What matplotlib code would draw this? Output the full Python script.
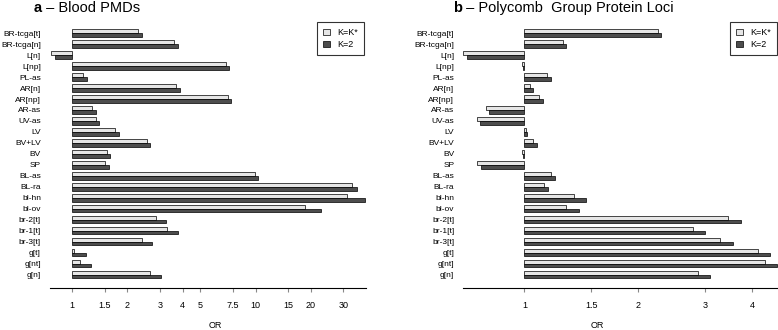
import numpy as np
import matplotlib.pyplot as plt

plt.rcParams['font.family'] = ['Liberation Sans', 'DejaVu Sans']

categories = ["BR-tcga[t]", "BR-tcga[n]", "L[n]", "L[np]", "PL-as", "AR[n]",
              "AR[np]", "AR-as", "UV-as", "LV", "BV+LV", "BV", "SP", "BL-as",
              "BL-ra", "bl-hn", "bl-ov", "br-2[t]", "br-1[t]", "br-3[t]",
              "g[t]", "g[nt]", "g[n]"]

# panel a - Blood PMDs
a_kstar = [2.29, 3.60, 0.762, 6.86, 1.148, 3.69, 7.03, 1.276, 1.34, 1.72, 2.55,
           1.55, 1.51, 9.92, 33.4, 31.3, 18.6, 2.87, 3.30, 2.41, 1.026, 1.10, 2.66]
a_k2 = [2.40, 3.75, 0.805, 7.13, 1.21, 3.87, 7.33, 1.34, 1.40, 1.79, 2.66,
        1.61, 1.585, 10.3, 35.7, 39.4, 22.6, 3.26, 3.77, 2.73, 1.19, 1.26, 3.06]
a_ticks = [1, 1.5, 2, 3, 4, 5, 7.5, 10, 15, 20, 30]
a_ticklabels = ["1", "1.5", "2", "3", "4", "5", "7.5", "10", "15", "20", "30"]

# panel b - Polycomb Group Protein Loci
b_kstar = [2.26, 1.265, 0.689, 0.985, 1.15, 1.035, 1.093, 0.792, 0.747, 1.01,
           1.05, 0.985, 0.748, 1.178, 1.127, 1.352, 1.285, 3.46, 2.79, 3.29,
           4.15, 4.33, 2.87]
b_k2 = [2.30, 1.29, 0.705, 0.992, 1.176, 1.056, 1.118, 0.808, 0.764, 1.016,
        1.076, 0.992, 0.767, 1.202, 1.155, 1.458, 1.397, 3.73, 3.00, 3.56,
        4.47, 4.66, 3.09]
b_ticks = [1, 1.5, 2, 3, 4]
b_ticklabels = ["1", "1.5", "2", "3", "4"]

W, H = 778, 330
LIGHT, DARK = "#e6e6e6", "#4d4d4d"

fig = plt.figure(figsize=(W / 100, H / 100), dpi=100)


def px_axes(x0, x1, y_top, y_bot):
    """Axes placed with pixel coords (origin top-left)."""
    return fig.add_axes([x0 / W, 1 - y_bot / H, (x1 - x0) / W, (y_bot - y_top) / H])


def draw_panel(ax, kstar, k2, xlim, ticks, ticklabels, letter, title, tx, legx, orx):
    n = len(categories)
    y = np.arange(n)[::-1]  # first category on top
    h = 0.34
    kstar = np.array(kstar)
    k2 = np.array(k2)
    ax.barh(y + h / 2, kstar - 1, left=1, height=h, color=LIGHT,
            edgecolor="black", linewidth=0.5, label="K=K*")
    ax.barh(y - h / 2, k2 - 1, left=1, height=h, color=DARK,
            edgecolor="black", linewidth=0.5, label="K=2")
    ax.set_xscale("log")
    ax.set_xlim(*xlim)
    ax.set_ylim(-1.22, 23.2)
    ax.set_xticks(ticks)
    ax.set_xticklabels(ticklabels)
    ax.xaxis.set_minor_locator(plt.NullLocator())
    ax.tick_params(axis="x", length=3, width=0.8, color="#888888",
                   pad=6.5, labelsize=6.5)
    ax.set_yticks(y)
    ax.set_yticklabels(categories)
    ax.tick_params(axis="y", length=0, pad=6.5, labelsize=6)
    for s in ["top", "right", "left"]:
        ax.spines[s].set_visible(False)
    ax.spines["bottom"].set_linewidth(0.8)
    ax.patch.set_visible(False)

    fig.text(orx / W, 1 - 326 / H, "OR", ha="center", va="center", fontsize=6.5)
    t = fig.text(tx / W, 1 - 8 / H, letter, fontsize=10.5, weight="bold",
                 ha="left", va="center")
    ax.annotate(" \u2013 " + title, xy=(1, 0.5), xycoords=t, va="center",
                ha="left", fontsize=10.5)

    leg = ax.legend(loc="upper left", bbox_to_anchor=(legx / W, 1 - 22 / H),
                    bbox_transform=fig.transFigure, fontsize=6.5, frameon=True,
                    fancybox=False, handlelength=0.7, handleheight=0.7,
                    handletextpad=0.8, borderpad=0.7, labelspacing=0.3,
                    borderaxespad=0)
    leg.get_frame().set_edgecolor("black")
    leg.get_frame().set_linewidth(0.8)


ax_a = px_axes(50, 365.7, 20, 288)
draw_panel(ax_a, a_kstar, a_k2, (0.756, 39.8), a_ticks, a_ticklabels,
           "a", "Blood PMDs", 34, 317, 215)

ax_b = px_axes(463.3, 778, 20, 288)
draw_panel(ax_b, b_kstar, b_k2, (0.689, 4.68), b_ticks, b_ticklabels,
           "b", "Polycomb  Group Protein Loci", 453, 730, 597)

fig.savefig("out.png", dpi=100)
